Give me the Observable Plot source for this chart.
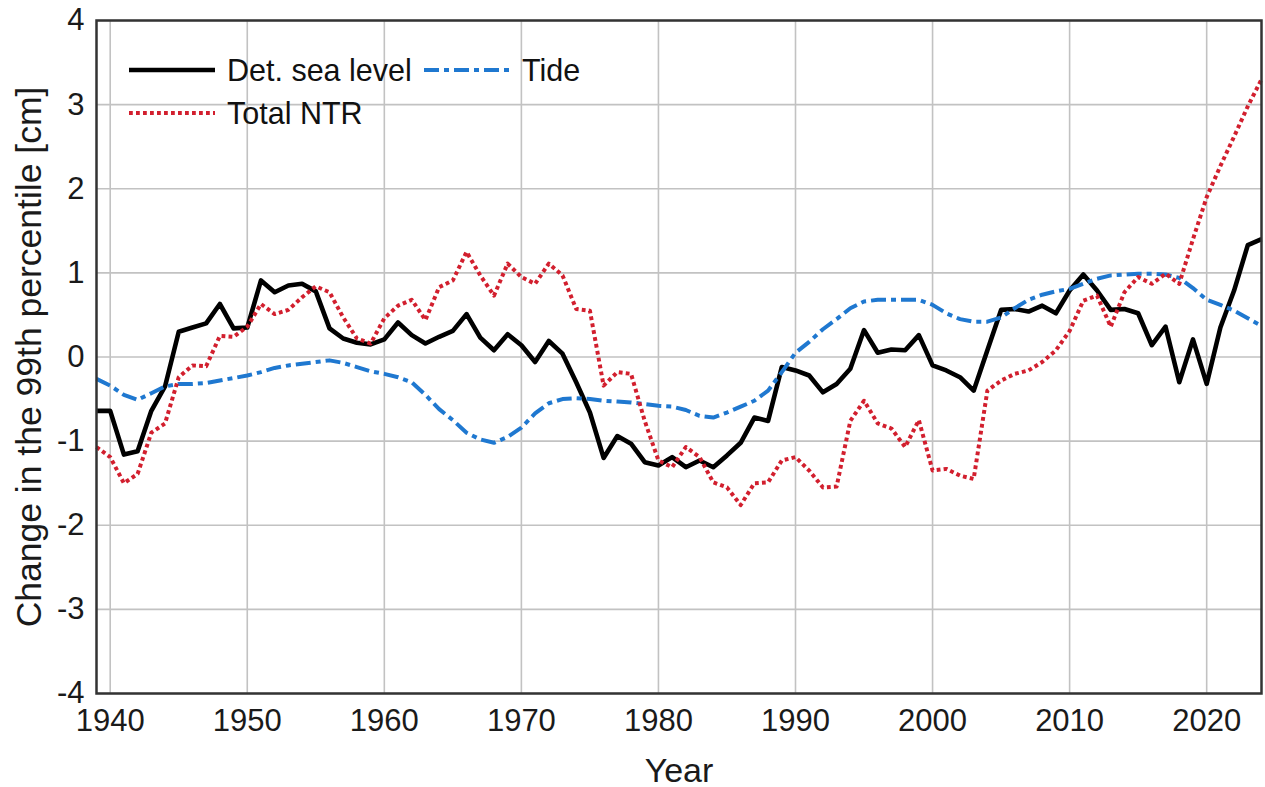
<!DOCTYPE html>
<html>
<head>
<meta charset="utf-8">
<script src="https://cdn.jsdelivr.net/npm/d3@7"></script>
<script src="https://cdn.jsdelivr.net/npm/@observablehq/plot@0.6"></script>
<style>
  html, body { margin: 0; padding: 0; background: #fff; }
  #wrap { position: relative; width: 1265px; height: 787px; font-family: "Liberation Sans", Arial, sans-serif; }
  .leg { position: absolute; display: flex; align-items: center; font-size: 30.5px; color: #111; white-space: nowrap; }
  .leg svg { margin-right: 12px; }
</style>
</head>
<body>
<div id="wrap"></div>
<script>
// Annual change in the 99th percentile [cm], 1939–2024
const years = [
  1939, 1940, 1941, 1942, 1943, 1944, 1945, 1946, 1947, 1948, 1949,
  1950, 1951, 1952, 1953, 1954, 1955, 1956, 1957, 1958, 1959,
  1960, 1961, 1962, 1963, 1964, 1965, 1966, 1967, 1968, 1969,
  1970, 1971, 1972, 1973, 1974, 1975, 1976, 1977, 1978, 1979,
  1980, 1981, 1982, 1983, 1984, 1985, 1986, 1987, 1988, 1989,
  1990, 1991, 1992, 1993, 1994, 1995, 1996, 1997, 1998, 1999,
  2000, 2001, 2002, 2003, 2004, 2005, 2006, 2007, 2008, 2009,
  2010, 2011, 2012, 2013, 2014, 2015, 2016, 2017, 2018, 2019,
  2020, 2021, 2022, 2023, 2024
];

const detSeaLevel = [
  -0.64, -0.64, -1.16, -1.12, -0.64, -0.35, 0.30, 0.35, 0.40, 0.63, 0.34,
  0.35, 0.91, 0.77, 0.85, 0.87, 0.78, 0.34, 0.22, 0.17, 0.15,
  0.21, 0.41, 0.26, 0.16, 0.24, 0.31, 0.51, 0.23, 0.08, 0.27,
  0.14, -0.06, 0.19, 0.04, -0.30, -0.66, -1.20, -0.94, -1.03, -1.25,
  -1.29, -1.19, -1.31, -1.23, -1.31, -1.17, -1.02, -0.72, -0.76, -0.12,
  -0.16, -0.22, -0.42, -0.32, -0.14, 0.32, 0.05, 0.09, 0.08, 0.26,
  -0.10, -0.16, -0.24, -0.40, 0.08, 0.56, 0.57, 0.54, 0.61, 0.52,
  0.79, 0.98, 0.79, 0.56, 0.57, 0.52, 0.14, 0.36, -0.30, 0.21,
  -0.32, 0.35, 0.79, 1.33, 1.40
];

const tide = [
  -0.26, -0.34, -0.45, -0.51, -0.43, -0.35, -0.32, -0.32, -0.31, -0.28, -0.25,
  -0.22, -0.18, -0.13, -0.10, -0.08, -0.06, -0.04, -0.07, -0.12, -0.17,
  -0.20, -0.24, -0.30, -0.45, -0.62, -0.75, -0.90, -0.98, -1.02, -0.95,
  -0.84, -0.67, -0.55, -0.50, -0.49, -0.50, -0.52, -0.53, -0.54, -0.56,
  -0.58, -0.59, -0.63, -0.70, -0.72, -0.66, -0.59, -0.52, -0.40, -0.18,
  0.05, 0.18, 0.33, 0.45, 0.58, 0.66, 0.68, 0.68, 0.68, 0.68,
  0.62, 0.52, 0.45, 0.42, 0.42, 0.47, 0.58, 0.68, 0.74, 0.78,
  0.81, 0.87, 0.93, 0.97, 0.98, 0.99, 0.99, 0.98, 0.94, 0.82,
  0.68, 0.62, 0.55, 0.46, 0.37
];

const totalNTR = [
  -1.07, -1.19, -1.50, -1.39, -0.90, -0.79, -0.24, -0.10, -0.11, 0.25, 0.24,
  0.36, 0.63, 0.51, 0.56, 0.71, 0.84, 0.77, 0.47, 0.22, 0.16,
  0.46, 0.61, 0.68, 0.44, 0.83, 0.91, 1.25, 0.97, 0.73, 1.11,
  0.95, 0.87, 1.11, 0.97, 0.57, 0.55, -0.34, -0.18, -0.20, -0.76,
  -1.23, -1.31, -1.07, -1.19, -1.49, -1.55, -1.76, -1.50, -1.49, -1.23,
  -1.19, -1.35, -1.55, -1.54, -0.76, -0.52, -0.79, -0.85, -1.07, -0.75,
  -1.35, -1.33, -1.41, -1.45, -0.40, -0.28, -0.20, -0.16, -0.06, 0.08,
  0.31, 0.67, 0.73, 0.36, 0.77, 0.95, 0.87, 0.99, 0.87, 1.40,
  1.90, 2.27, 2.62, 2.98, 3.30
];

const xTicks = [1940, 1950, 1960, 1970, 1980, 1990, 2000, 2010, 2020];
const yTicks = [-4, -3, -2, -1, 0, 1, 2, 3, 4];
const xTitle = "Year";
const yTitle = "Change in the 99th percentile [cm]";

const seriesNames = ["Det. sea level", "Tide", "Total NTR"];
const seriesColors = ["#000000", "#1f78d0", "#d21f2e"];
const seriesDash = [null, "15,5,5,5", "3.8,3.2"];
const seriesWidth = [4.6, 4, 4];

const rows = years.map((year, i) => ({
  year, det: detSeaLevel[i], tide: tide[i], ntr: totalNTR[i]
}));

const lineStyle = (k) => ({
  stroke: seriesColors[k],
  strokeWidth: seriesWidth[k],
  strokeDasharray: seriesDash[k] ?? undefined,
  strokeLinejoin: "round",
  strokeLinecap: "butt"
});

const chart = Plot.plot({
  width: 1265,
  height: 787,
  marginLeft: 96,
  marginRight: 4,
  marginTop: 20,
  marginBottom: 94,
  style: {
    fontFamily: "'Liberation Sans', Arial, sans-serif",
    fontSize: "31px",
    color: "#1a1a1a",
    background: "#fff",
    overflow: "visible"
  },
  x: { domain: [1939, 2024] },
  y: { domain: [-4, 4] },
  marks: [
    Plot.gridX(xTicks, { stroke: "#c2c2c2", strokeOpacity: 1, strokeWidth: 1.6 }),
    Plot.gridY(yTicks, { stroke: "#c2c2c2", strokeOpacity: 1, strokeWidth: 1.6 }),
    Plot.line(rows, { x: "year", y: "det", ...lineStyle(0) }),
    Plot.line(rows, { x: "year", y: "tide", ...lineStyle(1) }),
    Plot.line(rows, { x: "year", y: "ntr", ...lineStyle(2) }),
    Plot.frame({ stroke: "#333", strokeWidth: 2.5 }),
    Plot.axisX(xTicks, { tickSize: 0, tickPadding: 15, fontSize: 31, tickFormat: (d) => String(d), label: null }),
    Plot.axisY(yTicks, { tickSize: 0, tickPadding: 12, fontSize: 31, tickFormat: (d) => String(d), label: null }),
    Plot.text([xTitle], { frameAnchor: "bottom", dy: 88, fontSize: 34, text: (d) => d, fill: "#1a1a1a" }),
    Plot.text([yTitle], { frameAnchor: "left", dx: -67, rotate: -90, textAnchor: "middle", fontSize: 35.5, text: (d) => d, fill: "#1a1a1a" })
  ]
});

const wrap = document.getElementById("wrap");
wrap.appendChild(chart);

// Legend placed inside the plot's upper-left corner
const legendSpots = [
  { left: 129, top: 70 },
  { left: 424, top: 70 },
  { left: 129, top: 113 }
];
seriesNames.forEach((name, k) => {
  const item = document.createElement("div");
  item.className = "leg";
  item.style.left = legendSpots[k].left + "px";
  item.style.top = (legendSpots[k].top - 18) + "px";
  item.style.height = "36px";
  const dash = seriesDash[k] ? `stroke-dasharray="${seriesDash[k]}"` : "";
  item.innerHTML =
    `<svg width="86" height="12"><line x1="0" y1="6" x2="86" y2="6" stroke="${seriesColors[k]}" stroke-width="${seriesWidth[k]}" ${dash}/></svg><span>${name}</span>`;
  wrap.appendChild(item);
});
</script>
</body>
</html>
